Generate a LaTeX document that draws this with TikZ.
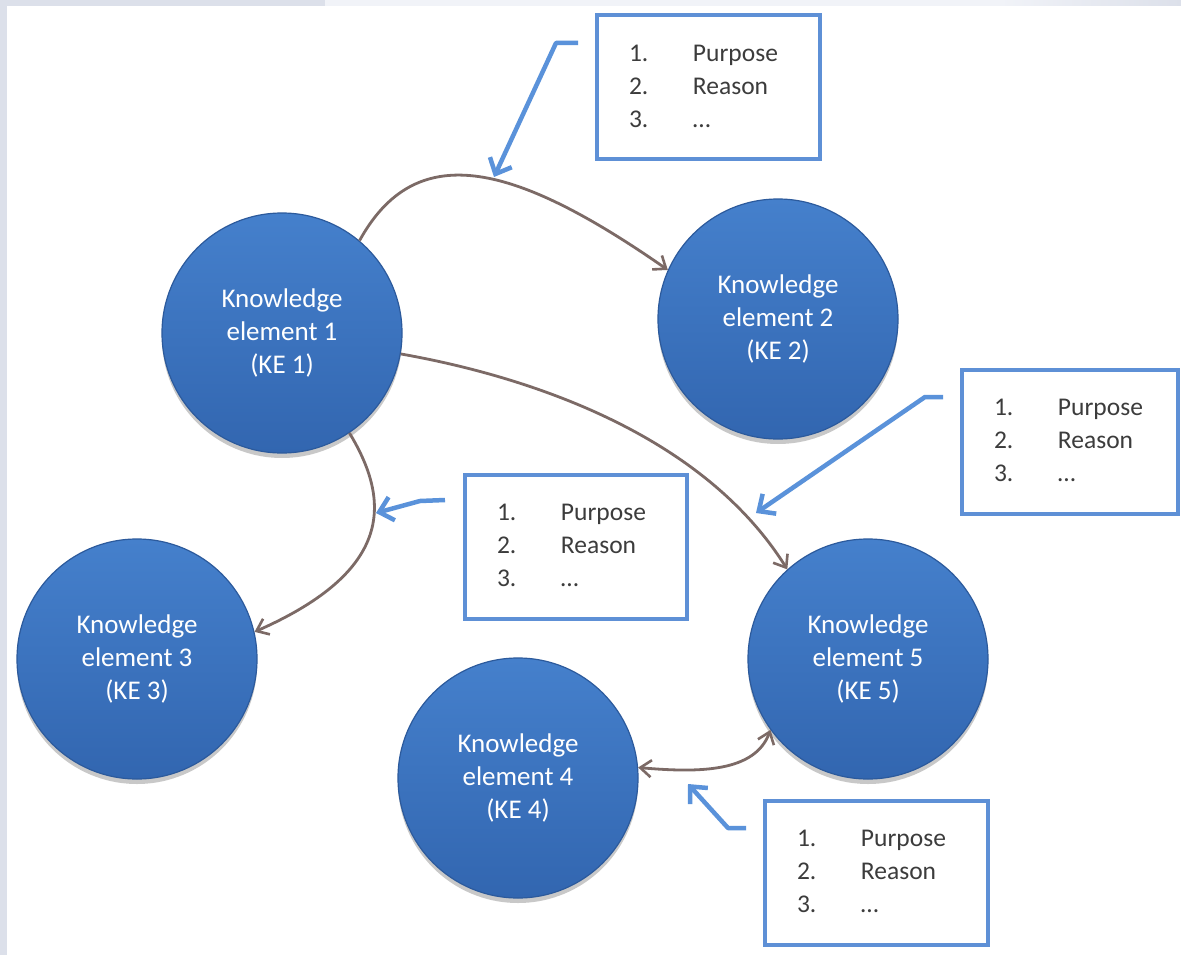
\documentclass[tikz,border=0pt]{standalone}
\usepackage{fontspec}
\setmainfont{Carlito}
\usetikzlibrary{arrows.meta,shadows,calc}
\definecolor{framegray}{HTML}{DCE0EA}
\definecolor{framelight}{HTML}{F1F3F8}
\definecolor{keTop}{HTML}{4580CC}
\definecolor{keBot}{HTML}{3266B0}
\definecolor{keRim}{HTML}{2C5A9C}
\definecolor{brownc}{HTML}{7C6A66}
\definecolor{calloutc}{HTML}{5A92DA}
\definecolor{boxc}{HTML}{5E90D6}
\definecolor{textc}{HTML}{3C3C3C}
\tikzset{
  kenode/.style={circle, minimum size=240pt, inner sep=0pt, top color=keTop, bottom color=keBot,
    draw=keRim, line width=1.2pt, text=white, align=center,
    font=\fontsize{27}{33}\selectfont,
    drop shadow={shadow xshift=0pt, shadow yshift=-5pt, opacity=0.3, fill=black!70}},
  notebox/.style={rectangle, draw=boxc, line width=4pt, fill=white, minimum height=144pt,
    inner xsep=32pt, inner ysep=0pt, align=left, text=textc,
    font=\fontsize{25.5}{33}\selectfont,
    drop shadow={shadow xshift=1.5pt, shadow yshift=-2pt, opacity=0.18, fill=black}},
  brownarr/.style={draw=brownc, line width=2.8pt, -{Straight Barb[length=11pt,width=17pt,line width=2.6pt]}},
  browndbl/.style={draw=brownc, line width=2.8pt, {Straight Barb[length=11pt,width=17pt,line width=2.6pt]}-{Straight Barb[length=11pt,width=17pt,line width=2.6pt]}},
  callout/.style={draw=calloutc, line width=4.5pt, line join=round, -{Straight Barb[length=13pt,width=24pt,line width=4.5pt]}}
}
\newcommand{\notelist}{\begin{tabular}{@{}p{64pt}@{}l@{}}1.&Purpose\\2.&Reason\\3.&…\end{tabular}}
\begin{document}
\begin{tikzpicture}[x=1pt,y=-1pt]
\useasboundingbox (0,0) rectangle (1181,955);
\fill[white] (0,0) rectangle (1181,955);
\fill[framegray] (0,0) rectangle (7,955);
\fill[framegray] (0,0) rectangle (325,6);
\fill[framelight] (325,0) rectangle (1000,6);
\shade[left color=framelight, right color=framegray] (1000,0) rectangle (1181,6);

% knowledge elements
\node[kenode] (KE1) at (282,333) {Knowledge\\element 1\\(KE 1)};
\node[kenode] (KE2) at (778,319) {Knowledge\\element 2\\(KE 2)};
\node[kenode] (KE3) at (137,659) {Knowledge\\element 3\\(KE 3)};
\node[kenode] (KE4) at (518,778) {Knowledge\\element 4\\(KE 4)};
\node[kenode] (KE5) at (868,659) {Knowledge\\element 5\\(KE 5)};

% relations
\draw[brownarr] (KE1.50) .. controls (415,140) and (510,160) .. (KE2.156);
\draw[brownarr] (KE1.-10) .. controls (520,375) and (700,430) .. (KE5.132);
\draw[brownarr] (KE1.-56) .. controls (390,500) and (395,570) .. (KE3.13);
\draw[browndbl] (KE4.5) .. controls (700,773) and (755,772) .. (KE5.216);

% note boxes
\node[notebox, text width=159pt] (NA) at (708.5,87.5) {\notelist};
\node[notebox, text width=152pt] (NB) at (1070,441.5) {\notelist};
\node[notebox, text width=158pt] (NC) at (576,546.5) {\notelist};
\node[notebox, text width=159pt] (ND) at (876.5,872.5) {\notelist};

% callouts
\coordinate (a0) at (578,43); \coordinate (a1) at (556,43); \coordinate (a2) at (494,177);
\draw[callout] (a0) -- (a1) -- (a2);
\coordinate (b0) at (943,397); \coordinate (b1) at (925,397); \coordinate (b2) at (756,513);
\draw[callout] (b0) -- (b1) -- (b2);
\coordinate (c0) at (445,500); \coordinate (c1) at (420,501); \coordinate (c2) at (376,513);
\draw[callout] (c0) -- (c1) -- (c2);
\coordinate (d0) at (746,828); \coordinate (d1) at (728,828); \coordinate (d2) at (688,784);
\draw[callout] (d0) -- (d1) -- (d2);
\end{tikzpicture}
\end{document}
